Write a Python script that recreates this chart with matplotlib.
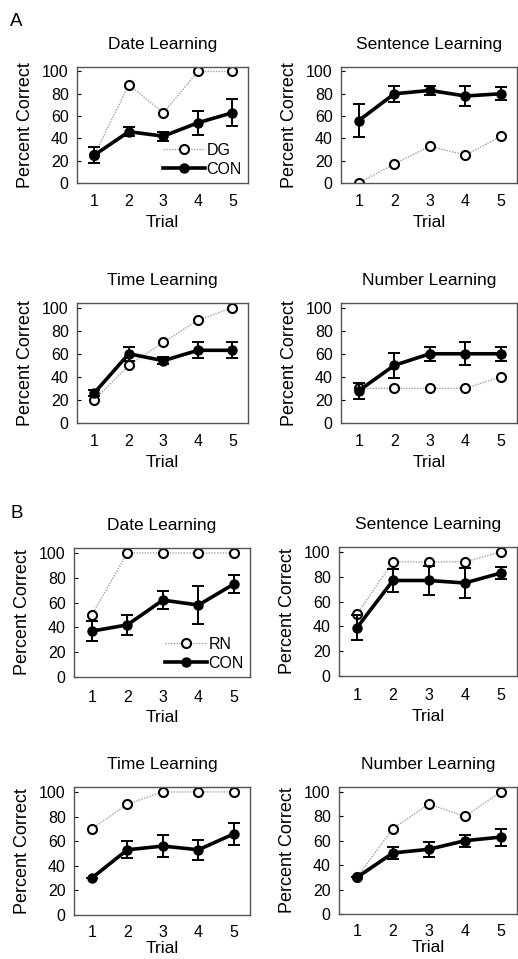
import matplotlib.pyplot as plt

# trials on the x axis
trials = [1, 2, 3, 4, 5]

# panel titles
titles = ['Date Learning', 'Sentence Learning', 'Time Learning', 'Number Learning']

# Part A: patient DG vs controls
dg_date = [25, 88, 63, 100, 100]
dg_sentence = [0, 17, 33, 25, 42]
dg_time = [20, 50, 70, 89, 100]
dg_number = [30, 30, 30, 30, 40]

conA_date = [25, 46, 42, 54, 63]
conA_date_err = [7, 4, 4, 11, 12]
conA_sentence = [56, 80, 83, 78, 80]
conA_sentence_err = [15, 7, 4, 9, 6]
conA_time = [26, 60, 54, 63, 63]
conA_time_err = [3, 6, 3, 7, 7]
conA_number = [28, 50, 60, 60, 60]
conA_number_err = [7, 11, 6, 10, 6]

# Part B: patient RN vs controls
rn_date = [50, 100, 100, 100, 100]
rn_sentence = [50, 92, 92, 92, 100]
rn_time = [70, 90, 100, 100, 100]
rn_number = [30, 70, 90, 80, 100]

conB_date = [37, 42, 62, 58, 75]
conB_date_err = [8, 8, 7, 15, 7]
conB_sentence = [39, 77, 77, 75, 83]
conB_sentence_err = [10, 9, 12, 12, 5]
conB_time = [30, 53, 56, 53, 66]
conB_time_err = [0, 7, 9, 8, 9]
conB_number = [30, 50, 53, 60, 63]
conB_number_err = [0, 5, 6, 5, 7]

plt.rcParams['font.family'] = ['Liberation Sans', 'DejaVu Sans']

W, H = 518, 959
fig = plt.figure(figsize=(W / 100, H / 100), dpi=100)
fig.patch.set_facecolor('white')


def box(left, top, right, bottom):
    # pixel box -> figure fraction rect
    return [left / W, 1 - bottom / H, (right - left) / W, (bottom - top) / H]


def panel(rect, title, pat, con, err, pat_name, show_legend, xpad, lpad=4):
    ax = fig.add_axes(rect)
    ax.plot(trials, pat, color='#a0a0a0', lw=1.0, ls=(0, (1, 1)),
            marker='o', ms=6.5, mfc='white', mec='black', mew=1.5,
            label=pat_name, zorder=2)
    ax.errorbar(trials, con, yerr=err, fmt='none', ecolor='black',
                elinewidth=1.4, capsize=4.5, capthick=1.4, zorder=3)
    ax.plot(trials, con, color='black', lw=2.6, marker='o', ms=6.5,
            label='CON', zorder=4)
    ax.set_xlim(0.5, 5.45)
    ax.set_ylim(0, 104)
    ax.set_xticks(trials)
    ax.set_yticks([0, 20, 40, 60, 80, 100])
    ax.tick_params(axis='y', direction='in', length=3, width=0.8,
                   labelsize=11.5, pad=6)
    ax.tick_params(axis='x', length=0, labelsize=11.5, pad=xpad)
    for s in ax.spines.values():
        s.set_color('#555555')
        s.set_linewidth(1.0)
    ax.set_title(title, fontsize=12.5, pad=13)
    ax.set_xlabel('Trial', fontsize=12.5, labelpad=lpad)
    ax.set_ylabel('Percent Correct', fontsize=13, labelpad=6)
    if show_legend:
        ax.legend(loc='lower right', frameon=False, fontsize=11.5,
                  handlelength=2.6, handletextpad=0.1, borderaxespad=0.0,
                  labelspacing=0.25)
    return ax


panel(box(77, 67, 248, 183), titles[0], dg_date, conA_date, conA_date_err, 'DG', True, 8)
panel(box(341, 67, 517, 183), titles[1], dg_sentence, conA_sentence, conA_sentence_err, 'DG', False, 8)
panel(box(77, 303, 248, 423), titles[2], dg_time, conA_time, conA_time_err, 'DG', False, 8)
panel(box(341, 303, 517, 423), titles[3], dg_number, conA_number, conA_number_err, 'DG', False, 8)

panel(box(74, 548, 250, 677), titles[0], rn_date, conB_date, conB_date_err, 'RN', True, 9)
panel(box(339, 547, 517, 676), titles[1], rn_sentence, conB_sentence, conB_sentence_err, 'RN', False, 9)
panel(box(74, 787, 250, 915), titles[2], rn_time, conB_time, conB_time_err, 'RN', False, 7, 1)
panel(box(339, 787, 517, 914), titles[3], rn_number, conB_number, conB_number_err, 'RN', False, 7, 1)

fig.text(10 / W, 1 - 22 / H, 'A', fontsize=13.5, va='center', ha='left')
fig.text(10 / W, 1 - 513 / H, 'B', fontsize=13.5, va='center', ha='left')

fig.savefig('out.png', dpi=100)
